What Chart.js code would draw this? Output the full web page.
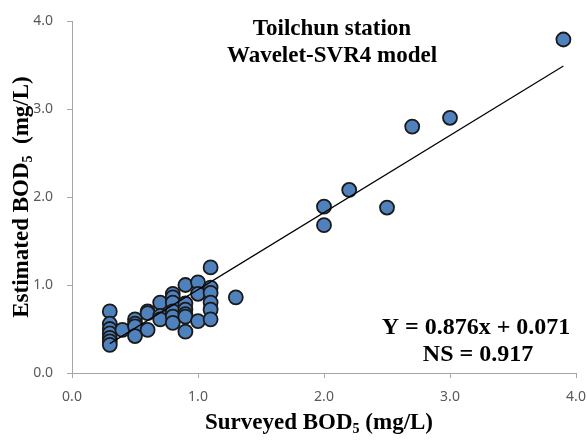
<!DOCTYPE html>
<html>
<head>
<meta charset="utf-8">
<script src="https://cdn.jsdelivr.net/npm/chart.js@4/dist/chart.umd.min.js"></script>
<style>
  html, body { margin: 0; padding: 0; background: #fff; }
  #wrap { width: 587px; height: 441px; }
</style>
</head>
<body>
<div id="wrap"><canvas id="grafico"></canvas></div>
<script>
// valores
const surveyed = [
  0.3, 0.3, 0.3, 0.3, 0.3, 0.3, 0.3,
  0.4,
  0.5, 0.5, 0.5, 0.5,
  0.6, 0.6, 0.6,
  0.7, 0.7, 0.7,
  0.8, 0.8, 0.8, 0.8, 0.8, 0.8,
  0.9, 0.9, 0.9, 0.9, 0.9, 0.9,
  1.0, 1.0, 1.0,
  1.1, 1.1, 1.1, 1.1, 1.1, 1.1,
  1.3,
  2.0, 2.0, 2.2, 2.5, 2.7, 3.0, 3.9
]
const estimated = [
  0.70, 0.56, 0.50, 0.45, 0.40, 0.36, 0.32,
  0.49,
  0.61, 0.56, 0.53, 0.42,
  0.70, 0.68, 0.49,
  0.80, 0.65, 0.61,
  0.90, 0.86, 0.80, 0.70, 0.64, 0.57,
  1.00, 0.79, 0.72, 0.67, 0.64, 0.47,
  1.03, 0.90, 0.59,
  1.20, 0.97, 0.91, 0.80, 0.72, 0.61,
  0.86,
  1.89, 1.68, 2.08, 1.88, 2.80, 2.90, 3.79
]
const slope = 0.876
const intercept = 0.071
const lineRange = [0.3, 3.9]
const tickValues = [0, 1, 2, 3, 4]
const titleLines = ["Toilchun station", "Wavelet-SVR4 model"]
const eqLines = ["Y = 0.876x + 0.071", "NS = 0.917"]

const puntos = surveyed.map((x, i) => ({ x: x, y: estimated[i] }))
const recta = lineRange.map(x => ({ x: x, y: slope * x + intercept }))

const SERIF = "'Liberation Serif', 'DejaVu Serif', serif"
const GRIS = "#a6a6a6"

// dibuja texto con un subindice (BOD5)
function textoSub(ctx, partes, cx, cy, size) {
  const subSize = Math.round(size * 0.62)
  let total = 0
  partes.forEach(p => {
    ctx.font = "bold " + (p.sub ? subSize : size) + "px " + SERIF
    p.w = ctx.measureText(p.t).width
    total += p.w
  })
  let x = cx - total / 2
  ctx.textAlign = "left"
  ctx.textBaseline = "alphabetic"
  partes.forEach(p => {
    ctx.font = "bold " + (p.sub ? subSize : size) + "px " + SERIF
    ctx.fillText(p.t, x, cy + (p.sub ? size * 0.18 : 0))
    x += p.w
  })
}

const textos = {
  id: "textos",
  afterDraw(chart) {
    const ctx = chart.ctx
    ctx.save()
    ctx.fillStyle = "#000"
    ctx.textAlign = "center"
    ctx.textBaseline = "middle"
    ctx.font = "bold 23px " + SERIF
    ctx.fillText(titleLines[0], 332, 29)
    ctx.fillText(titleLines[1], 332, 56)
    ctx.font = "bold 24px " + SERIF
    ctx.fillText(eqLines[0], 476, 328)
    ctx.fillText(eqLines[1], 478, 355)

    // titulo eje x
    textoSub(ctx, [{ t: "Surveyed BOD" }, { t: "5", sub: true }, { t: " (mg/L)" }], 319, 429, 23)

    // titulo eje y
    ctx.translate(28, 197)
    ctx.rotate(-Math.PI / 2)
    textoSub(ctx, [{ t: "Estimated BOD" }, { t: "5", sub: true }, { t: "  (mg/L)" }], 0, 0, 23)
    ctx.restore()
  }
}

const ejeComun = {
  type: "linear",
  min: 0,
  max: 4,
  afterBuildTicks: (eje) => { eje.ticks = tickValues.map(v => ({ value: v })) },
  border: { display: true, color: GRIS, width: 1 },
  grid: { drawOnChartArea: false, drawTicks: true, tickLength: 5, color: GRIS },
  ticks: {
    color: "#595959",
    font: { family: "'Noto Sans', 'Open Sans', sans-serif", size: 14 },
    callback: (v) => Number(v).toFixed(1)
  }
}

const config = {
  type: "scatter",
  data: {
    datasets: [
      {
        type: "line",
        data: recta,
        borderColor: "#000",
        borderWidth: 1.2,
        pointRadius: 0,
        fill: false,
        order: 0
      },
      {
        data: puntos,
        backgroundColor: "#4f81bd",
        borderColor: "#1a1a1a",
        borderWidth: 1.8,
        pointRadius: 7,
        order: 1
      }
    ]
  },
  options: {
    responsive: true,
    maintainAspectRatio: false,
    animation: false,
    layout: { padding: { top: 21, right: 11, left: 0, bottom: 0 } },
    plugins: { legend: { display: false }, tooltip: { enabled: false } },
    scales: {
      x: Object.assign({}, ejeComun, {
        ticks: Object.assign({}, ejeComun.ticks, { padding: 11, maxRotation: 0 }),
        afterFit: (eje) => {
          eje.height = 68
          eje.paddingLeft = 0
          eje.paddingRight = 0
        }
      }),
      y: Object.assign({}, ejeComun, {
        ticks: Object.assign({}, ejeComun.ticks, { padding: 14 }),
        afterFit: (eje) => {
          eje.width = 72
          eje.paddingTop = 0
          eje.paddingBottom = 0
        }
      })
    }
  },
  plugins: [textos]
}

new Chart(document.querySelector("#grafico"), config)
</script>
</body>
</html>
